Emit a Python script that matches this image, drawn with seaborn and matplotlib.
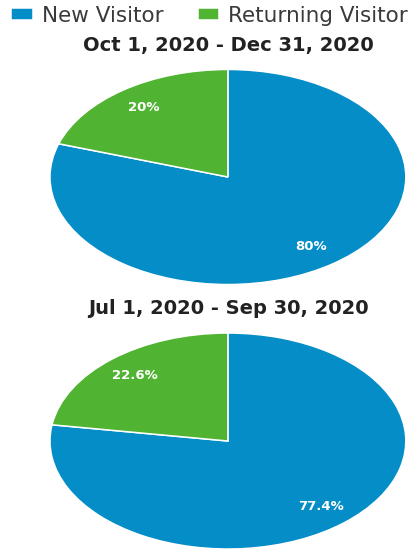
import seaborn as sns
import matplotlib.pyplot as plt

# данные по периодам
periods = ["Oct 1, 2020 - Dec 31, 2020", "Jul 1, 2020 - Sep 30, 2020"]
visitor_types = ["New Visitor", "Returning Visitor"]
new_share = [80.0, 77.4]
returning_share = [20.0, 22.6]
colours = ["#058DC7", "#50B432"]

sns.set_theme(style="white")
plt.rcParams["font.family"] = ["DejaVu Sans"]


def fmt_pct(p):
    s = f"{p:.1f}"
    if s.endswith(".0"):
        s = s[:-2]
    return s + "%"


fig = plt.figure(figsize=(4.09, 5.50), dpi=100)

# положение осей (доли фигуры) и заголовков
ax_boxes = [[0.1222, 0.4827, 0.870, 0.391], [0.1222, 0.0018, 0.870, 0.3927]]
title_y = [1 - 46 / 550, 1 - 309 / 550]

wedges_for_legend = None
for i, period in enumerate(periods):
    ax = fig.add_axes(ax_boxes[i])
    wedges, texts, autotexts = ax.pie(
        [new_share[i], returning_share[i]],
        colors=colours,
        startangle=90,
        counterclock=False,
        autopct=fmt_pct,
        pctdistance=0.8,
        wedgeprops={"edgecolor": "white", "linewidth": 1.1},
        textprops={"color": "white", "fontsize": 9.5, "fontweight": "bold"},
    )
    ax.set_aspect("auto")
    ax.set_xlim(-1, 1)
    ax.set_ylim(-1, 1)
    ax.axis("off")
    fig.text(228 / 409, title_y[i], period, ha="center", va="center",
             fontsize=14, fontweight="bold", color="#222222")
    if wedges_for_legend is None:
        wedges_for_legend = wedges

fig.legend(
    handles=wedges_for_legend, labels=visitor_types,
    loc="center left", bbox_to_anchor=(11 / 409, 1 - 16 / 550),
    ncol=2, frameon=False, fontsize=15.5,
    handlelength=1.0, handleheight=0.5, handletextpad=0.42,
    columnspacing=1.6, borderpad=0, borderaxespad=0,
    labelcolor="#3a3a3a",
)

plt.savefig("out.png", dpi=100)
